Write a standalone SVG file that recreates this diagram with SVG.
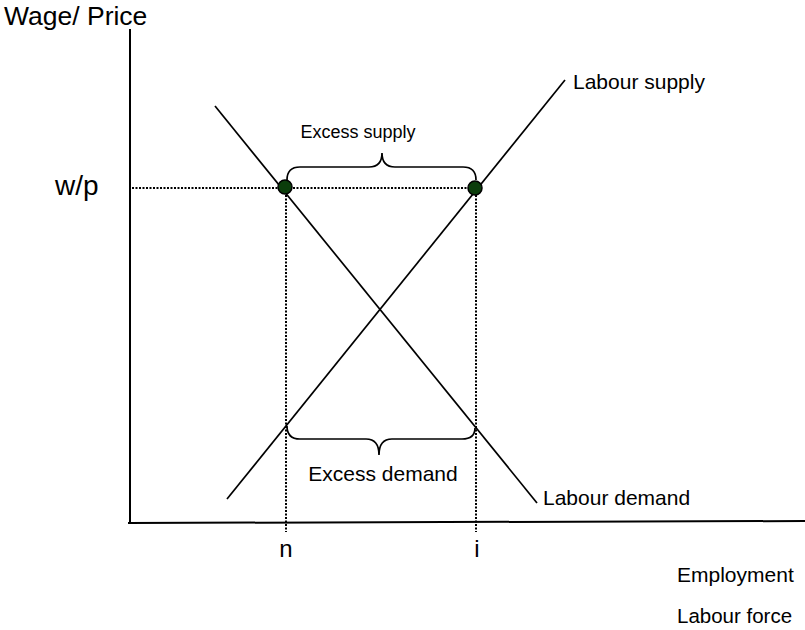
<svg xmlns="http://www.w3.org/2000/svg" width="805" height="630" viewBox="0 0 805 630">
<style>
text{font-family:"Liberation Sans",Arial,sans-serif;fill:#000}
.ax{stroke:#000;stroke-width:2;fill:none}
.ln{stroke:#000;stroke-width:1.7;fill:none}
.dot{stroke:#000;stroke-width:2;stroke-dasharray:2 1.5;fill:none}
.br{stroke:#000;stroke-width:1.7;fill:none}
.pt{fill:#0b3d0b;stroke:#000;stroke-width:1.5}
</style>
<rect width="805" height="630" fill="#fff"/>
<g id="axes">
<line class="ax" x1="130" y1="29" x2="130" y2="524"/>
<line class="ax" x1="128" y1="523" x2="805" y2="521"/>
</g>
<g id="connectors">
<line class="dot" x1="132" y1="188" x2="476" y2="188"/>
<line class="dot" x1="286" y1="188" x2="286" y2="532"/>
<line class="dot" x1="476" y1="188" x2="476" y2="532"/>
<line class="ln" x1="215" y1="106" x2="537" y2="503"/>
<line class="ln" x1="227" y1="499" x2="565" y2="80"/>
</g>
<g id="brace-supply">
<path class="br" d="M287,180 Q287,167 300,167 L369,167 Q382,167 382,153 Q382,167 395,167 L463,167 Q476,167 476,180"/>
<text x="358" y="138" font-size="18" text-anchor="middle">Excess supply</text>
</g>
<g id="brace-demand">
<path class="br" d="M287,426 Q287,439 300,439 L366,439 Q379,439 379,455 Q379,439 392,439 L462,439 Q475,439 475,428"/>
<text x="383" y="481" font-size="21" text-anchor="middle">Excess demand</text>
</g>
<g id="point-n"><circle class="pt" cx="285" cy="187" r="7"/></g>
<g id="point-i"><circle class="pt" cx="475" cy="188" r="7"/></g>
<g id="labels">
<text x="4" y="25" font-size="26.5">Wage/ Price</text>
<text x="55" y="195" font-size="28">w/p</text>
<text x="573" y="89" font-size="21">Labour supply</text>
<text x="543" y="505" font-size="21">Labour demand</text>
<text x="286" y="557" font-size="24" text-anchor="middle">n</text>
<text x="477" y="557" font-size="24" text-anchor="middle">i</text>
<text x="677" y="582" font-size="21">Employment</text>
<text x="677" y="623" font-size="20.5">Labour force</text>
</g>
</svg>
